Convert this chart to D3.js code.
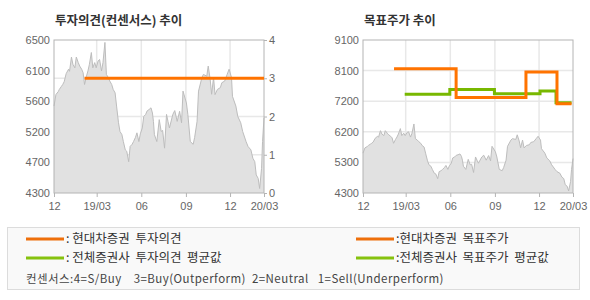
<!DOCTYPE html>
<html>
<head>
<meta charset="utf-8">
<script src="https://cdn.jsdelivr.net/npm/d3@7"></script>
<style>
  body { margin: 0; background: #fff; }
  text { font-family: "Liberation Sans", Arial, sans-serif; }
  .kr { font-family: "Noto Sans CJK KR", sans-serif; }
  .axis text { fill: #666; font-size: 11px; font-family: "Liberation Sans", Arial, sans-serif; }
  .axis path, .axis line { stroke: #b4b4b4; }
</style>
</head>
<body>
<svg id="chart" width="590" height="300"></svg>
<script>
// 주가 (일별, 그림에서 읽은 값)
var priceDates = ["2018-12-03","2018-12-07","2018-12-12","2018-12-14","2018-12-18","2018-12-21","2018-12-24","2018-12-28",
  "2019-01-02","2019-01-04","2019-01-08","2019-01-11","2019-01-15","2019-01-18","2019-01-22","2019-01-25","2019-01-29",
  "2019-02-01","2019-02-04","2019-02-08","2019-02-11","2019-02-14","2019-02-18","2019-02-21","2019-02-25","2019-02-28",
  "2019-03-04","2019-03-07","2019-03-11","2019-03-14","2019-03-18","2019-03-21","2019-03-25","2019-03-28",
  "2019-04-01","2019-04-04","2019-04-08","2019-04-11","2019-04-15","2019-04-18","2019-04-22","2019-04-25","2019-04-29",
  "2019-05-02","2019-05-06","2019-05-09","2019-05-13","2019-05-16","2019-05-20","2019-05-23","2019-05-27","2019-05-30",
  "2019-06-03","2019-06-06","2019-06-10","2019-06-13","2019-06-17","2019-06-21","2019-06-24","2019-06-26","2019-06-28",
  "2019-07-03","2019-07-08","2019-07-12","2019-07-15","2019-07-19","2019-07-23","2019-07-26","2019-07-29",
  "2019-08-05","2019-08-09","2019-08-14","2019-08-19","2019-08-23","2019-08-26",
  "2019-09-02","2019-09-05","2019-09-10","2019-09-16","2019-09-19","2019-09-24","2019-09-27",
  "2019-10-04","2019-10-07","2019-10-14","2019-10-17","2019-10-21","2019-10-24","2019-10-28","2019-10-31",
  "2019-11-05","2019-11-11","2019-11-14","2019-11-20","2019-11-25","2019-11-29",
  "2019-12-04","2019-12-06","2019-12-13","2019-12-17","2019-12-23","2019-12-27",
  "2020-01-03","2020-01-07","2020-01-13","2020-01-17","2020-01-21","2020-01-24","2020-01-28","2020-01-31",
  "2020-02-04","2020-02-06","2020-02-09"];
var priceValues = [5550,5716,5760,5790,5830,5860,5900,6015,
  6080,6050,6255,6150,6100,6255,6175,6125,6080,
  6030,5860,5980,6055,6150,6320,6100,6175,6100,
  6200,6220,6055,6175,6465,6005,5960,5910,
  5860,5790,5740,5550,5310,5185,5140,5040,4920,
  4900,4750,4970,5000,5040,5100,5165,5040,5150,
  5235,5400,5430,5480,5500,5525,5450,5330,5140,
  5040,5355,5185,5200,4945,5430,5330,5235,
  5430,5485,5330,5475,5310,5765,
  5595,5430,5040,5000,5100,5330,5765,
  5960,6005,5980,6125,5935,5720,5960,5715,
  5790,5815,5885,5910,6005,6080,
  5960,5690,5550,5400,5310,5185,
  5040,4970,4920,4800,4750,4560,4510,4365,
  4655,5040,5380];

// 현대차증권 투자의견 (3=Buy)
var opinionDates = ["2019-02-04","2020-02-09"];
var opinionValues = [3, 3];

// 현대차증권 목표주가
var targetDates = ["2019-02-05","2019-06-13","2019-11-04","2020-01-07","2020-02-06"];
var targetValues = [8200, 7300, 8100, 7100, 7100];

// 전체증권사 목표주가 평균값
var avgTargetDates = ["2019-02-27","2019-05-31","2019-08-31","2019-12-03","2020-01-05","2020-02-06"];
var avgTargetValues = [7400, 7550, 7410, 7500, 7130, 7130];

// 축 눈금
var xTickDates = ["2018-12-03","2019-03-01","2019-06-01","2019-09-01","2019-12-01","2020-02-09"];
var xTickLabels = ["12","19/03","06","09","12","20/03"];
var opinionPriceTicks = [4300,4740,5180,5620,6060,6500];
var opinionPriceLabels = ["4300","4700","5200","5600","6100","6500"];
var opinionTicks = [0,1,2,3,4];
var targetTicks = [4300,5260,6220,7180,8140,9100];
var targetLabels = ["4300","5300","6200","7200","8100","9100"];

var parse = d3.timeParse("%Y-%m-%d");
var price = priceDates.map((d, i) => ({date: parse(d), value: priceValues[i]}));
var opinion = opinionDates.map((d, i) => ({date: parse(d), value: opinionValues[i]}));
var target = targetDates.map((d, i) => ({date: parse(d), value: targetValues[i]}));
var avgTarget = avgTargetDates.map((d, i) => ({date: parse(d), value: avgTargetValues[i]}));
var xTicks = xTickDates.map(parse);

var ORANGE = "#ff7300";
var GREEN = "#78b800";
var top0 = 40, bottom0 = 193;

var svg = d3.select("#chart");

function panel(left, right, title) {
    var g = svg.append("g");
    var x = d3.scaleTime()
        .domain([xTicks[0], xTicks[xTicks.length - 1]])
        .range([left, right]);

    // 제목
    g.append("text")
        .attr("class", "kr")
        .attr("x", left + 1)
        .attr("y", 25)
        .attr("font-size", 12.5)
        .attr("font-weight", "bold")
        .attr("fill", "#333")
        .text(title);

    // 세로 격자
    g.append("g").selectAll("line")
        .data(xTicks.slice(1, -1))
        .join("line")
        .attr("x1", d => x(d)).attr("x2", d => x(d))
        .attr("y1", top0).attr("y2", bottom0)
        .attr("stroke", "#e8e8e8")
        .attr("stroke-width", 1.5);

    return {g: g, x: x};
}

function hGrid(g, y, ticks, left, right) {
    g.append("g").selectAll("line")
        .data(ticks)
        .join("line")
        .attr("x1", left).attr("x2", right)
        .attr("y1", d => y(d)).attr("y2", d => y(d))
        .attr("stroke", "#e8e8e8")
        .attr("stroke-width", 1.5);
}

function priceArea(g, x, y) {
    var area = d3.area()
        .x(d => x(d.date))
        .y0(bottom0)
        .y1(d => y(d.value));
    var line = d3.line()
        .x(d => x(d.date))
        .y(d => y(d.value));
    g.append("path")
        .datum(price)
        .attr("fill", "#e1e1e1")
        .attr("d", area);
    g.append("path")
        .datum(price)
        .attr("fill", "none")
        .attr("stroke", "#bdbdbd")
        .attr("stroke-width", 1)
        .attr("d", line);
}

function frame(g, left, right) {
    g.append("rect")
        .attr("x", left).attr("y", top0)
        .attr("width", right - left).attr("height", bottom0 - top0)
        .attr("fill", "none")
        .attr("stroke", "#b4b4b4");
}

function xAxis(g, x) {
    g.append("g")
        .attr("class", "axis")
        .attr("transform", `translate(0,${bottom0})`)
        .call(d3.axisBottom(x).tickValues(xTicks).tickSizeOuter(0).tickSize(4).tickPadding(5)
            .tickFormat((d, i) => xTickLabels[i]))
        .call(a => a.select(".domain").remove());
}

function stepLine(g, data, x, y, color) {
    g.append("path")
        .datum(data)
        .attr("fill", "none")
        .attr("stroke", color)
        .attr("stroke-width", 3)
        .attr("d", d3.line().curve(d3.curveStepAfter).x(d => x(d.date)).y(d => y(d.value)));
}

// ---------- 투자의견(컨센서스) 추이 ----------
var p1 = panel(54, 264, "투자의견(컨센서스) 추이");
var yPrice1 = d3.scaleLinear().domain([4300, 6500]).range([bottom0, top0]);
var yOpinion = d3.scaleLinear().domain([0, 4]).range([bottom0, top0]);
hGrid(p1.g, yOpinion, opinionTicks.slice(1, -1), 54, 264);
priceArea(p1.g, p1.x, yPrice1);
frame(p1.g, 54, 264);
xAxis(p1.g, p1.x);
p1.g.append("g")
    .attr("class", "axis")
    .attr("transform", "translate(54,0)")
    .call(d3.axisLeft(yPrice1).tickValues(opinionPriceTicks).tickSize(0).tickPadding(4)
        .tickFormat((d, i) => opinionPriceLabels[i]))
    .call(a => a.select(".domain").remove());
p1.g.append("g")
    .attr("class", "axis")
    .attr("transform", "translate(264,0)")
    .call(d3.axisRight(yOpinion).tickValues(opinionTicks).tickSize(3).tickPadding(2)
        .tickFormat(d3.format("d")))
    .call(a => a.select(".domain").remove());
stepLine(p1.g, opinion, p1.x, yOpinion, ORANGE);

// ---------- 목표주가 추이 ----------
var p2 = panel(363, 573, "목표주가 추이");
var yTarget = d3.scaleLinear().domain([4300, 9100]).range([bottom0, top0]);
hGrid(p2.g, yTarget, targetTicks.slice(1, -1), 363, 573);
priceArea(p2.g, p2.x, yTarget);
frame(p2.g, 363, 573);
xAxis(p2.g, p2.x);
p2.g.append("g")
    .attr("class", "axis")
    .attr("transform", "translate(363,0)")
    .call(d3.axisLeft(yTarget).tickValues(targetTicks).tickSize(0).tickPadding(4)
        .tickFormat((d, i) => targetLabels[i]))
    .call(a => a.select(".domain").remove());
stepLine(p2.g, avgTarget, p2.x, yTarget, GREEN);
stepLine(p2.g, target, p2.x, yTarget, ORANGE);

// ---------- 범례 ----------
var legend = svg.append("g");
legend.append("rect")
    .attr("x", 7.5).attr("y", 227.5)
    .attr("width", 572).attr("height", 62)
    .attr("fill", "#f9f9f9")
    .attr("stroke", "#dcdcdc");

var legendItems = [
    {x: 26, y: 239, color: "#ee6f0a", label: ": 현대차증권  투자의견"},
    {x: 26, y: 258, color: "#86c20e", label: ": 전체증권사  투자의견  평균값"},
    {x: 356, y: 239, color: "#ee6f0a", label: ":현대차증권  목표주가"},
    {x: 356, y: 258, color: "#86c20e", label: ":전체증권사  목표주가  평균값"}
];
legendItems.forEach(d => {
    legend.append("line")
        .attr("x1", d.x).attr("x2", d.x + 38)
        .attr("y1", d.y).attr("y2", d.y)
        .attr("stroke", d.color)
        .attr("stroke-width", 3);
    legend.append("text")
        .attr("class", "kr")
        .attr("x", d.x + 40)
        .attr("y", d.y + 4)
        .attr("font-size", 12.5)
        .attr("fill", "#333")
        .style("white-space", "pre")
        .text(d.label);
});
legend.append("text")
    .attr("class", "kr")
    .attr("x", 26)
    .attr("y", 283)
    .attr("font-size", 11.5)
    .attr("letter-spacing", 0.45)
    .attr("fill", "#444")
    .style("white-space", "pre")
    .text("컨센서스:4=S/Buy    3=Buy(Outperform)  2=Neutral   1=Sell(Underperform)");
</script>
</body>
</html>
